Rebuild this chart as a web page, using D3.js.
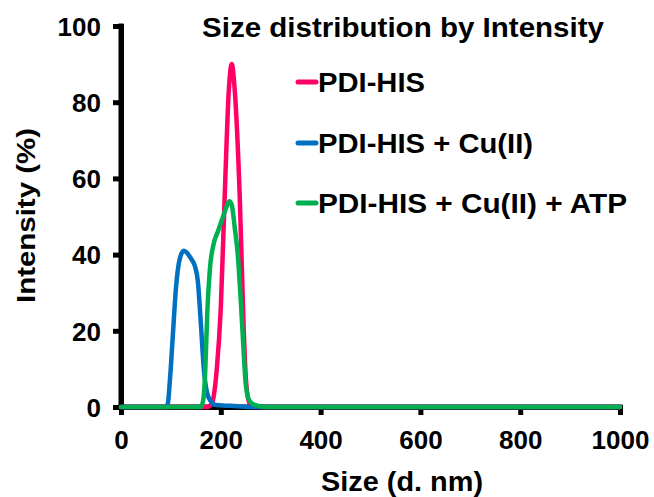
<!DOCTYPE html>
<html>
<head>
<meta charset="utf-8">
<script src="https://cdn.jsdelivr.net/npm/d3@7"></script>
<style>
  html, body { margin: 0; padding: 0; background: #fff; }
  svg { display: block; }
  text { font-family: "Liberation Sans", Arial, sans-serif; font-weight: bold; fill: #000; }
  .domain { stroke: #000 !important; stroke-width: 5px !important; }
  .tick line { stroke: #000 !important; stroke-width: 5px !important; }
</style>
</head>
<body>
<svg id="chart" width="654" height="497"></svg>
<script>
// ---- data ----
const xTicks = [0, 200, 400, 600, 800, 1000];
const yTicks = [0, 20, 40, 60, 80, 100];

const seriesNames = ["PDI-HIS", "PDI-HIS + Cu(II)", "PDI-HIS + Cu(II) + ATP"];
const seriesColors = ["#FF0066", "#0070C0", "#00B050"];

const pdiSize = [0, 172, 180, 186, 192, 200, 208, 216, 222, 228, 238, 246, 250, 256, 262, 1000];
const pdiVal  = [0, 0, 0.5, 3, 10, 26, 56, 83, 90, 83, 55, 20, 8, 1.5, 0, 0];

const cuSize = [0, 90, 94, 98, 104, 110, 118, 126, 132, 140, 148, 154, 160, 166, 172, 180, 190, 220, 260, 1000];
const cuVal  = [0, 0, 1, 7, 19, 31, 39, 41, 40.5, 39, 37, 33, 22, 10, 4, 1.5, 0.5, 0.3, 0, 0];

const atpSize = [0, 160, 165, 169, 173, 178, 186, 194, 202, 210, 217, 222, 228, 234, 240, 246, 250, 256, 264, 275, 290, 1000];
const atpVal  = [0, 0, 2, 10, 25, 36, 43, 46, 49, 52, 54, 53, 47, 40, 28, 14, 6, 2, 0.8, 0.3, 0, 0];

const seriesSizes = [pdiSize, cuSize, atpSize];
const seriesValues = [pdiVal, cuVal, atpVal];

// ---- chart ----
const svg = d3.select("#chart");
const x = d3.scaleLinear().domain([0, 1000]).range([121, 620]);
const y = d3.scaleLinear().domain([0, 100]).range([407, 26]);

// axes
const xAxis = d3.axisBottom(x).tickValues(xTicks).tickFormat(d3.format("d")).tickSize(8).tickSizeOuter(0).tickPadding(16);
const yAxis = d3.axisLeft(y).tickValues(yTicks).tickFormat(d3.format("d")).tickSize(8).tickSizeOuter(0).tickPadding(12);

const gx = svg.append("g").attr("transform", `translate(0,${y(0)})`).call(xAxis);
const gy = svg.append("g").attr("transform", `translate(${x(0)},0)`).call(yAxis);

[gx, gy].forEach(g => {
  g.select(".domain").attr("stroke", "#000").attr("stroke-width", 5).attr("stroke-linecap", "square");
  g.selectAll(".tick line").attr("stroke", "#000").attr("stroke-width", 5);
  g.selectAll(".tick text").style("font-size", "26px").style("font-family", "'Liberation Sans', Arial, sans-serif").style("font-weight", "bold").style("fill", "#000");
});
gy.selectAll(".tick text").attr("dy", "0.36em");
gx.selectAll(".tick text").attr("dy", "0.71em");

// axis lines drawn from scale ranges (reinforce thickness)
svg.append("line")
  .attr("x1", x(0)).attr("x2", x(0)).attr("y1", y(0)).attr("y2", y(100))
  .attr("stroke", "#000").attr("stroke-width", 5).attr("stroke-linecap", "square");
svg.append("line")
  .attr("x1", x(0)).attr("x2", x(1000)).attr("y1", y(0)).attr("y2", y(0))
  .attr("stroke", "#000").attr("stroke-width", 5).attr("stroke-linecap", "square");

// lines
const line = d3.line().x(d => x(d[0])).y(d => y(d[1])).curve(d3.curveMonotoneX);
seriesNames.forEach((name, i) => {
  const pts = seriesSizes[i].map((s, j) => [s, seriesValues[i][j]]);
  svg.append("path")
    .datum(pts)
    .attr("d", line)
    .attr("fill", "none")
    .attr("stroke", seriesColors[i])
    .attr("stroke-width", 4.5)
    .attr("stroke-linejoin", "round")
    .attr("stroke-linecap", "round");
});

// title
svg.append("text")
  .attr("x", 202).attr("y", 37)
  .attr("textLength", 402).attr("lengthAdjust", "spacingAndGlyphs")
  .style("font-size", "27px")
  .text("Size distribution by Intensity");

// legend
const legendY = [82, 143, 203];
const legendLen = [107, 215, 309];
seriesNames.forEach((name, i) => {
  svg.append("line")
    .attr("x1", 298).attr("x2", 316)
    .attr("y1", legendY[i]).attr("y2", legendY[i])
    .attr("stroke", seriesColors[i]).attr("stroke-width", 5).attr("stroke-linecap", "round");
  svg.append("text")
    .attr("x", 318).attr("y", legendY[i] + 10)
    .attr("textLength", legendLen[i]).attr("lengthAdjust", "spacingAndGlyphs")
    .style("font-size", "27px")
    .text(name);
});

// axis labels
svg.append("text")
  .attr("x", 402).attr("y", 491)
  .attr("text-anchor", "middle")
  .attr("textLength", 162).attr("lengthAdjust", "spacingAndGlyphs")
  .style("font-size", "27px")
  .text("Size (d. nm)");

svg.append("text")
  .attr("transform", "translate(35,215.5) rotate(-90)")
  .attr("text-anchor", "middle")
  .attr("textLength", 175).attr("lengthAdjust", "spacingAndGlyphs")
  .style("font-size", "26px")
  .text("Intensity (%)");
</script>
</body>
</html>
